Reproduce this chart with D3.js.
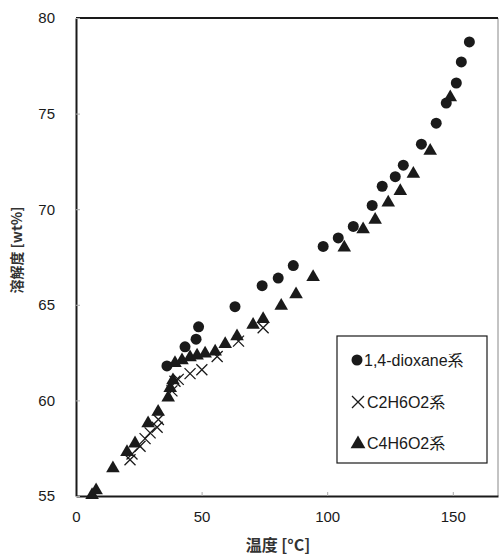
<!DOCTYPE html>
<html><head><meta charset="utf-8">
<script src="https://cdn.jsdelivr.net/npm/d3@7"></script>
<style>body{margin:0;background:#fff}svg{display:block}</style>
</head><body>
<svg id="c" width="500" height="558"></svg>
<script>
const xTicks=[0,50,100,150];
const yTicks=[55,60,65,70,75,80];
const seriesNames=["1,4-dioxane系","C2H6O2系","C4H6O2系"];
const dioxane=[[36.2,61.8],[43.4,62.8],[47.8,63.2],[48.8,63.85],[63.3,64.9],[74.1,66.0],[80.5,66.4],[86.5,67.05],[98.4,68.05],[104.4,68.5],[110.4,69.1],[117.9,70.2],[121.9,71.2],[127.1,71.7],[130.3,72.3],[137.5,73.4],[143.4,74.5],[147.4,75.55],[151.4,76.6],[153.4,77.7],[156.6,78.75]];
const c2h6o2=[[21.5,56.9],[22.3,57.2],[25.5,57.6],[27.5,58.0],[29.5,58.3],[32.3,58.6],[32.8,59.0],[38.2,60.5],[39.4,61.0],[40.7,61.1],[45.4,61.4],[50.1,61.6],[56.2,62.3],[64.7,63.1],[74.5,63.8]];
const c4h6o2=[[6.4,55.1],[8.0,55.35],[14.7,56.5],[20.3,57.35],[23.5,57.8],[28.7,58.85],[32.7,59.45],[36.7,60.2],[37.5,60.7],[38.6,61.1],[39.4,62.0],[42.2,62.15],[45.4,62.3],[48.2,62.4],[51.4,62.5],[55.4,62.6],[59.4,63.0],[64.1,63.4],[70.5,64.0],[74.5,64.3],[81.7,65.0],[87.6,65.6],[94.4,66.5],[106.8,68.05],[114.3,69.0],[119.1,69.5],[124.3,70.4],[129.1,71.0],[134.3,71.9],[141.0,73.1],[149.0,75.9]];

const svg=d3.select("#c");
const L=76,R=498,T=18,B=496;
const x=d3.scaleLinear().domain([0,168]).range([L,R]);
const y=d3.scaleLinear().domain([55,80]).range([B,T]);
const font="'Liberation Sans', Arial, 'Noto Sans CJK JP', sans-serif";
const ink="#1a1a1a";

// frame
svg.append("line").attr("x1",R).attr("x2",R).attr("y1",T).attr("y2",B).attr("stroke","#888").attr("stroke-width",1);
svg.append("line").attr("x1",L).attr("x2",R).attr("y1",T).attr("y2",T).attr("stroke",ink).attr("stroke-width",2);

// axes
const xa=svg.append("g").attr("transform",`translate(0,${B})`)
 .call(d3.axisBottom(x).tickValues(xTicks).tickSizeInner(-4).tickSizeOuter(0).tickPadding(12).tickFormat(d3.format("d")));
const ya=svg.append("g").attr("transform",`translate(${L},0)`)
 .call(d3.axisLeft(y).tickValues(yTicks).tickSizeInner(-4).tickSizeOuter(0).tickPadding(21).tickFormat(d3.format("d")));
[xa,ya].forEach(g=>{
 g.select(".domain").attr("stroke",ink).attr("stroke-width",2);
 g.selectAll(".tick line").attr("stroke","#aaa");
 g.selectAll(".tick text").attr("font-family",font).attr("font-size",15).attr("fill",ink);
});
xa.selectAll(".tick text").attr("dy","0.9em");

// titles
svg.append("text").attr("x",278).attr("y",551).attr("text-anchor","middle")
 .attr("font-family","'Noto Sans CJK JP', sans-serif").attr("font-size",16).attr("font-weight","bold").attr("fill","#333").text("温度 [°C]");
svg.append("text").attr("transform","translate(22,250) rotate(-90)").attr("text-anchor","middle")
 .attr("font-family","'Noto Sans CJK JP', sans-serif").attr("font-size",14).attr("font-weight","bold").attr("fill","#333").text("溶解度 [wt%]");

// marks
const tri=d3.symbol().type(d3.symbolTriangle).size(80);
const cross=(g,cx,cy,s)=>{g.append("path").attr("d",`M${cx-s},${cy-s}L${cx+s},${cy+s}M${cx-s},${cy+s}L${cx+s},${cy-s}`).attr("stroke",ink).attr("stroke-width",1.3).attr("fill","none");};
const gm=svg.append("g");
gm.selectAll("circle.d").data(dioxane).join("circle").attr("class","d")
 .attr("cx",d=>x(d[0])).attr("cy",d=>y(d[1])).attr("r",5.5).attr("fill",ink);
c2h6o2.forEach(d=>cross(gm,x(d[0]),y(d[1]),5.5));
gm.selectAll("path.t").data(c4h6o2).join("path").attr("class","t")
 .attr("d",tri).attr("transform",d=>`translate(${x(d[0])},${y(d[1])+1})`).attr("fill",ink);

// legend
const lg=svg.append("g");
lg.append("rect").attr("x",337).attr("y",336).attr("width",150).attr("height",127).attr("fill","#fff").attr("stroke",ink).attr("stroke-width",1.2);
const ly=[360,402,443];
lg.append("circle").attr("cx",357).attr("cy",ly[0]).attr("r",5.5).attr("fill",ink);
cross(lg,358,ly[1],6);
lg.append("path").attr("d",d3.symbol().type(d3.symbolTriangle).size(95)).attr("transform",`translate(358,${ly[2]+1})`).attr("fill",ink);
seriesNames.forEach((n,i)=>{
 lg.append("text").attr("x",i===0?364:367).attr("y",ly[i]).attr("dy","0.36em")
  .attr("font-family",font).attr("font-size",16).attr("fill",ink).text(n);
});
</script>
</body></html>
